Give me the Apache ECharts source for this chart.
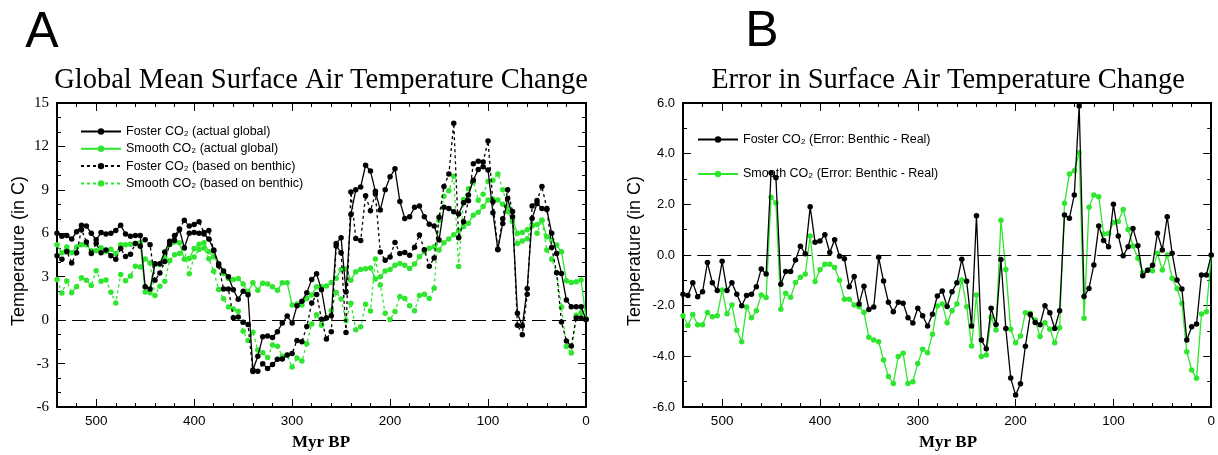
<!DOCTYPE html>
<html>
<head>
<meta charset="utf-8">
<script src="https://cdn.jsdelivr.net/npm/echarts@6/dist/echarts.min.js"></script>
<style>
html,body{margin:0;padding:0;background:#fff;}
#c{width:1218px;height:455px;}
</style>
</head>
<body>
<div id="c"></div>
<script>
// Ages (Myr BP), 540 -> 0 every 5 Myr
var ages = [];
for (var a = 540; a >= 0; a -= 5) ages.push(a);

// Panel A: Foster CO2 (actual global)
var fosterActual = [6.0,5.8,5.85,5.6,6.1,6.55,6.5,6.0,5.55,6.05,5.95,6.0,6.2,6.55,5.95,5.8,5.85,5.85,2.3,2.15,
3.9,3.9,4.7,5.45,5.5,6.25,5.0,6.0,6.05,6.0,5.95,5.6,4.85,3.9,3.4,3.0,2.1,1.45,2.0,1.75,
-3.45,-2.5,-1.15,-1.1,-1.2,-0.8,-0.2,0.28,-0.2,1.0,1.3,1.9,2.8,3.2,2.1,0.15,0.3,5.3,5.7,1.95,
7.3,9.0,9.2,10.7,10.3,8.9,7.6,9.0,9.9,10.45,8.2,7.03,7.14,7.79,7.88,7.14,6.63,6.5,5.53,7.79,
7.72,7.49,7.33,8.11,8.64,9.67,10.41,10.6,10.37,7.42,4.89,6.68,8.41,7.14,0.47,-0.41,2.19,7.03,8.06,7.72,
7.65,6.0,4.61,3.23,1.39,0.93,0.93,0.93,0.05];
// Panel A: Smooth CO2 (actual global)
var smoothActual = [5.2,4.65,5.05,4.65,5.05,5.2,5.2,4.8,4.8,5.0,4.75,4.9,4.6,5.2,5.2,5.25,5.3,5.35,1.95,1.9,
3.85,3.85,4.35,5.2,5.4,5.35,4.2,4.25,4.95,5.25,5.35,4.73,4.38,3.87,3.23,2.88,2.81,2.88,2.49,1.96,
2.58,2.07,2.55,2.49,2.3,2.07,2.58,2.58,1.04,1.11,1.04,1.5,1.74,2.3,2.31,2.35,2.6,2.9,3.5,3.55,
2.75,3.35,3.5,3.55,3.6,2.85,3.0,3.4,3.5,3.8,3.92,3.8,3.57,3.87,4.38,4.72,4.96,5.07,4.85,5.35,
5.6,5.9,6.2,6.45,6.7,7.25,7.45,7.85,8.3,8.35,8.3,8.0,7.5,6.95,6.0,6.05,6.25,6.5,6.6,6.9,
5.76,5.53,5.19,4.73,2.72,2.6,2.66,2.77,0.1];
// Panel A: Foster CO2 (based on benthic)
var fosterBenthic = [4.45,4.2,4.75,3.95,4.65,6.25,5.4,4.6,5.3,4.65,4.85,4.45,4.2,4.95,4.4,4.55,5.3,5.1,5.55,5.2,
2.75,3.25,4.05,5.25,5.85,6.3,6.9,6.5,6.6,6.8,6.05,6.2,4.8,3.75,2.15,2.15,0.17,0.22,-0.15,-0.3,
-3.54,-3.53,-3.02,-3.34,-3.07,-2.7,-2.68,-2.4,-2.3,-1.4,-1.5,-0.44,1.18,1.78,0.07,-1.3,-0.8,5.13,4.66,-0.85,
8.85,5.64,5.5,8.6,7.56,8.72,4.7,4.14,4.37,5.37,4.6,4.68,4.48,5.04,5.88,4.86,3.73,4.3,7.11,9.24,
10.09,13.6,5.69,6.79,8.25,10.81,10.98,10.93,12.37,8.17,4.86,7.01,9.0,7.51,-0.35,-1.01,1.79,7.89,8.26,9.23,
7.72,5.01,3.27,-0.13,-1.44,-1.79,0.14,0.14,0.05];
// Panel A: Smooth CO2 (based on benthic)
var smoothBenthic = [2.8,1.87,2.7,1.9,2.3,2.93,2.76,2.4,3.42,2.68,2.78,1.93,1.18,3.15,2.72,3.05,3.72,3.67,4.23,3.95,
1.71,2.34,2.68,4.11,4.52,4.6,4.95,3.2,4.37,4.88,4.98,4.24,3.38,2.12,1.48,0.91,0.77,0.62,-0.76,-1.4,
-0.84,-2.07,-2.25,-2.58,-1.71,-1.81,-2.49,-2.42,-3.24,-2.61,-2.82,-1.63,-0.27,0.37,-0.36,0.15,0.67,1.91,1.46,-0.04,
1.17,-0.66,-0.45,1.09,0.64,4.22,2.43,0.47,0.04,0.6,1.64,1.5,1.0,0.65,1.71,1.79,1.5,2.2,6.89,8.55,
8.93,9.94,3.7,8.33,9.07,9.55,8.28,8.7,9.58,9.67,10.1,9.01,7.86,6.82,5.3,5.46,5.63,6.57,6.01,6.9,
4.84,4.21,3.28,0.91,-1.82,-2.27,0.33,0.53,0.1];

// Panel B: Foster CO2 (Error: Benthic - Real)
var fosterError = [-1.55,-1.6,-1.1,-1.65,-1.45,-0.3,-1.1,-1.4,-0.25,-1.4,-1.1,-1.55,-2.0,-1.6,-1.55,-1.25,-0.55,-0.75,3.25,3.05,
-1.15,-0.65,-0.65,-0.2,0.35,0.05,1.9,0.5,0.55,0.8,0.1,0.6,-0.05,-0.15,-1.25,-0.85,-1.93,-1.23,-2.15,-2.05,
-0.09,-1.03,-1.87,-2.24,-1.87,-1.9,-2.48,-2.68,-2.1,-2.4,-2.8,-2.34,-1.62,-1.42,-2.03,-1.45,-1.1,-0.17,-1.04,-2.8,
1.55,-3.36,-3.7,-2.1,-2.74,-0.18,-2.9,-4.86,-5.53,-5.08,-3.6,-2.35,-2.66,-2.75,-2.0,-2.28,-2.9,-2.2,1.58,1.45,
2.37,5.88,-1.64,-1.32,-0.39,1.14,0.57,0.33,2.0,0.75,-0.03,0.33,1.05,0.37,-0.82,-0.6,-0.4,0.86,0.2,1.51,
0.07,-0.99,-1.34,-3.36,-2.83,-2.72,-0.79,-0.79,0.0];
// Panel B: Smooth CO2 (Error: Benthic - Real)
var smoothError = [-2.4,-2.78,-2.35,-2.75,-2.75,-2.27,-2.44,-2.4,-1.38,-2.32,-1.97,-2.97,-3.42,-2.05,-2.48,-2.2,-1.58,-1.68,2.28,2.05,
-2.14,-1.51,-1.67,-1.09,-0.88,-0.75,0.75,-1.05,-0.58,-0.37,-0.37,-0.49,-1.0,-1.75,-1.75,-1.97,-2.04,-2.26,-3.25,-3.36,
-3.42,-4.14,-4.8,-5.07,-4.01,-3.88,-5.07,-5.0,-4.28,-3.72,-3.86,-3.13,-2.01,-1.93,-2.67,-2.2,-1.93,-0.99,-2.04,-3.59,
-1.58,-4.01,-3.95,-2.46,-2.96,1.37,-0.57,-2.93,-3.46,-3.2,-2.28,-2.3,-2.57,-3.22,-2.67,-2.93,-3.46,-2.87,2.04,3.2,
3.33,4.04,-2.5,1.88,2.37,2.3,0.83,0.85,1.28,1.32,1.8,1.01,0.36,-0.13,-0.7,-0.59,-0.62,0.07,-0.59,0.0,
-0.92,-1.32,-1.91,-3.82,-4.54,-4.87,-2.33,-2.24,0.0];

var xTicks = [0,100,200,300,400,500];
var yTicksA = [-6,-3,0,3,6,9,12,15];
var yTicksB = [-6,-4,-2,0,2,4,6];

var names = {
  fa: 'Foster CO\u2082 (actual global)',
  sa: 'Smooth CO\u2082 (actual global)',
  fb: 'Foster CO\u2082 (based on benthic)',
  sb: 'Smooth CO\u2082 (based on benthic)',
  fe: 'Foster CO\u2082 (Error: Benthic - Real)',
  se: 'Smooth CO\u2082 (Error: Benthic - Real)'
};

var GREEN = '#2ee62e';
var BLACK = '#000000';
var SANS = "'Liberation Sans', Arial, Helvetica, sans-serif";
var SERIF = "'Liberation Serif', 'Times New Roman', serif";

function pairs(arr){ return ages.map(function(a,i){ return [a, arr[i]]; }); }

function xAx(gi, pos, interval, len, showLine, showLabel){
  return {
    type:'value', gridIndex:gi, position:pos, min:0, max:540, inverse:true, interval:interval,
    axisLine:{show:showLine, onZero:false, lineStyle:{color:'#000', width:2}},
    axisTick:{show:true, inside:true, length:len, lineStyle:{color:'#000', width:1}},
    axisLabel:{show:showLabel, color:'#000', fontFamily:SANS, fontSize:13.5, margin:7,
      formatter:function(v){ return xTicks.indexOf(v) >= 0 ? String(v) : ''; }},
    splitLine:{show:false}
  };
}
function yAx(gi, pos, min, max, interval, minorSplit, showLabel, labelFmt, font, fsize){
  return {
    type:'value', gridIndex:gi, position:pos, min:min, max:max, interval:interval,
    axisLine:{show:true, onZero:false, lineStyle:{color:'#000', width:2}},
    axisTick:{show:true, inside:true, length:8, lineStyle:{color:'#000', width:1}},
    minorTick:{show:true, splitNumber:minorSplit, length:4, lineStyle:{color:'#000', width:1}},
    axisLabel:{show:showLabel, color:'#000', fontFamily:font, fontSize:fsize, margin:8, formatter:labelFmt},
    splitLine:{show:false}, minorSplitLine:{show:false}
  };
}

function lineSeries(name, data, xi, yi, color, dashed, z){
  return {
    type:'line', name:name, data:pairs(data), xAxisIndex:xi, yAxisIndex:yi,
    symbol:'circle', symbolSize:5.5, showSymbol:true, z:z,
    itemStyle:{color:color},
    lineStyle:{color:color, width:1.3, type: dashed ? [3,3] : 'solid'},
    clip:true, animation:false
  };
}

var zeroLine = {
  silent:true, symbol:['none','none'], label:{show:false},
  lineStyle:{color:'#000', width:1, type:[14,6]},
  data:[{yAxis:0}], animation:false
};

var chart = echarts.init(document.getElementById('c'), null, {renderer:'canvas'});

var sFA = lineSeries(names.fa, fosterActual, 0, 0, BLACK, false, 5);
var sSA = lineSeries(names.sa, smoothActual, 0, 0, GREEN, false, 3);
var sFB = lineSeries(names.fb, fosterBenthic, 0, 0, BLACK, true, 4);
var sSB = lineSeries(names.sb, smoothBenthic, 0, 0, GREEN, true, 2);
var sFE = lineSeries(names.fe, fosterError, 4, 2, BLACK, false, 5);
var sSE = lineSeries(names.se, smoothError, 4, 2, GREEN, false, 4);
sSB.markLine = zeroLine;
sSE.markLine = zeroLine;

var option = {
  backgroundColor:'#ffffff',
  animation:false,
  grid:[
    {left:57, right:632, top:103, bottom:48},
    {left:683, right:6, top:103, bottom:48}
  ],
  xAxis:[
    xAx(0,'bottom',100,8,true,true),
    xAx(0,'bottom',20,4,false,false),
    xAx(0,'top',100,8,true,false),
    xAx(0,'top',20,4,false,false),
    xAx(1,'bottom',100,8,true,true),
    xAx(1,'bottom',20,4,false,false),
    xAx(1,'top',100,8,true,false),
    xAx(1,'top',20,4,false,false)
  ],
  yAxis:[
    yAx(0,'left',-6,15,3,3,true,function(v){return String(v);},SERIF,15),
    yAx(0,'right',-6,15,3,3,false,null,SERIF,15),
    yAx(1,'left',-6,6,2,2,true,function(v){return v.toFixed(1);},SANS,13),
    yAx(1,'right',-6,6,2,2,false,null,SANS,13)
  ],
  legend:[
    {
      data:[names.fa, names.sa, names.fb, names.sb],
      orient:'vertical', left:75, top:120, itemWidth:40, itemHeight:8, itemGap:4.3,
      textStyle:{fontFamily:SANS, fontSize:12.5, color:'#000'},
      selectedMode:false
    },
    {
      data:[names.fe, names.se],
      orient:'vertical', left:692, top:128, itemWidth:40, itemHeight:8, itemGap:21.5,
      textStyle:{fontFamily:SANS, fontSize:12.5, color:'#000'},
      selectedMode:false
    }
  ],
  series:[sSB, sSA, sFB, sFA, sSE, sFE],
  graphic:[
    {type:'text', x:42, y:33, style:{text:'A', font:'50px ' + SANS, fill:'#000', textAlign:'center', textVerticalAlign:'middle'}},
    {type:'text', x:762, y:32, style:{text:'B', font:'50px ' + SANS, fill:'#000', textAlign:'center', textVerticalAlign:'middle'}},
    {type:'text', x:321, y:81, style:{text:'Global Mean Surface Air Temperature Change', font:'28.5px ' + SERIF, fill:'#000', textAlign:'center', textVerticalAlign:'middle'}},
    {type:'text', x:948, y:81, style:{text:'Error in Surface Air Temperature Change', font:'28.5px ' + SERIF, fill:'#000', textAlign:'center', textVerticalAlign:'middle'}},
    {type:'text', x:19, y:251, rotation:Math.PI/2, style:{text:'Temperature (in C)', font:'18px ' + SANS, fill:'#000', textAlign:'center', textVerticalAlign:'middle'}},
    {type:'text', x:635, y:251, rotation:Math.PI/2, style:{text:'Temperature (in C)', font:'18px ' + SANS, fill:'#000', textAlign:'center', textVerticalAlign:'middle'}},
    {type:'text', x:321, y:443, style:{text:'Myr BP', font:'bold 17px ' + SERIF, fill:'#000', textAlign:'center', textVerticalAlign:'middle'}},
    {type:'text', x:948, y:443, style:{text:'Myr BP', font:'bold 17px ' + SERIF, fill:'#000', textAlign:'center', textVerticalAlign:'middle'}}
  ]
};
chart.setOption(option);
</script>
</body>
</html>
